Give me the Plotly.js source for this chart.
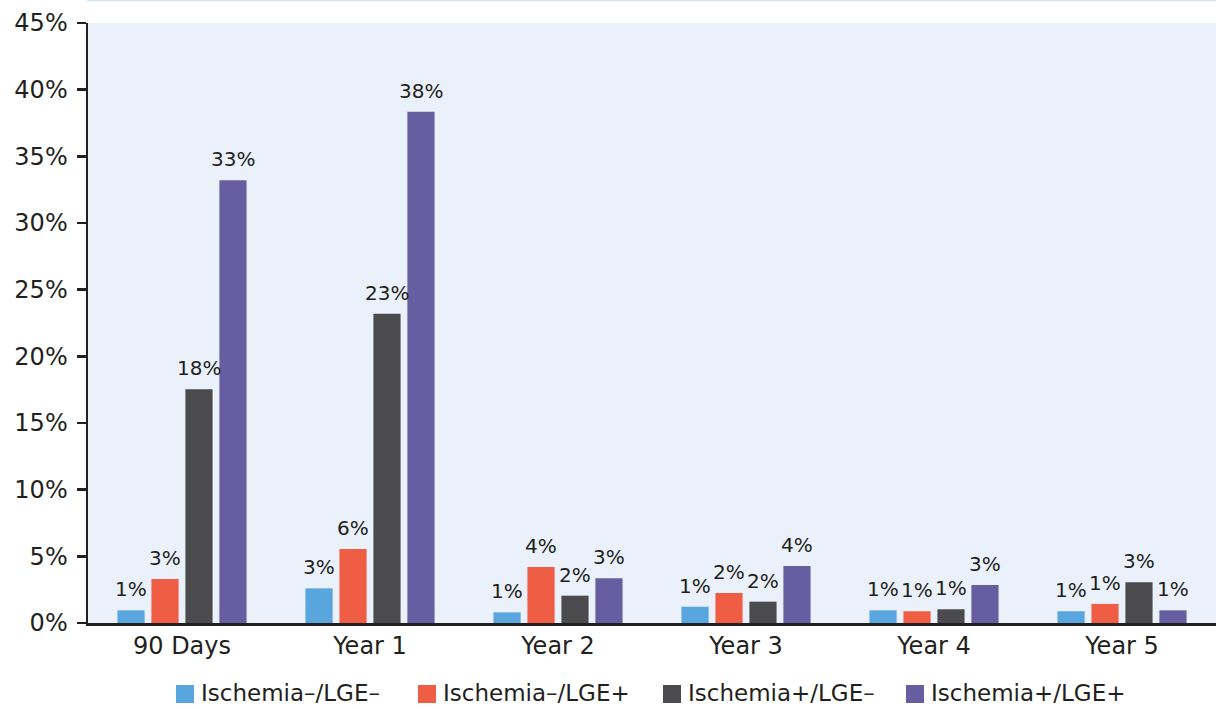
<!DOCTYPE html>
<html>
<head>
<meta charset="utf-8">
<script src="https://cdn.plot.ly/plotly-3.0.1.min.js"></script>
<style>
  html, body { margin: 0; padding: 0; background: #ffffff; }
  #chart { width: 1216px; height: 709px; }
</style>
</head>
<body>
<div id="chart"></div>
<script>
// Time points after the scan
const periods = ['90 Days', 'Year 1', 'Year 2', 'Year 3', 'Year 4', 'Year 5'];

// Event rate (%) per group and period
const ischNegLgeNeg = [0.95, 2.6, 0.8, 1.22, 0.95, 0.88];
const ischNegLgePos = [3.3, 5.55, 4.2, 2.25, 0.88, 1.43];
const ischPosLgeNeg = [17.53, 23.2, 2.05, 1.6, 1.03, 3.05];
const ischPosLgePos = [33.2, 38.35, 3.35, 4.28, 2.85, 0.95];

const groupNames = ['Ischemia\u2013/LGE\u2013', 'Ischemia\u2013/LGE+', 'Ischemia+/LGE\u2013', 'Ischemia+/LGE+'];
const groupColors = ['#59a5dd', '#ef5d45', '#4b4b4d', '#665ea0'];

const yTicks = [0, 5, 10, 15, 20, 25, 30, 35, 40, 45];

const seriesValues = [ischNegLgeNeg, ischNegLgePos, ischPosLgeNeg, ischPosLgePos];
const ink = '#231f20';
const font = '"DejaVu Sans", "Open Sans", sans-serif';

// Plot area geometry (pixels)
const plotLeft = 88, plotWidth = 1128, plotTop = 23, plotHeight = 600;
const bargap = 0.277, bargroupgap = 0.2;
const px = p => (p - plotLeft) / plotWidth;
const py = p => (plotTop + plotHeight - p) / plotHeight;

const traces = seriesValues.map((vals, i) => ({
  type: 'bar',
  name: groupNames[i],
  x: periods,
  y: vals,
  marker: { color: groupColors[i] },
  showlegend: false,
  hoverinfo: 'x+y+name'
}));

// Value labels above each bar, shifted sideways to the bar's slot in its group
const categoryPx = plotWidth / periods.length;
const slotPx = categoryPx * (1 - bargap) / seriesValues.length;
const annotations = [];
seriesValues.forEach((vals, i) => {
  vals.forEach((v, j) => {
    annotations.push({
      xref: 'x', yref: 'y', x: periods[j], y: v,
      xshift: (i - (seriesValues.length - 1) / 2) * slotPx,
      yshift: 7,
      xanchor: 'center', yanchor: 'bottom', showarrow: false,
      text: v.toFixed(0) + '%',
      font: { family: font, size: 20, color: ink }
    });
  });
});

// Legend drawn as colour squares with names underneath the axis
const legendSquareLeft = [176, 418, 663, 906];
const legendSquareSize = 18;
const legendMidY = 694;

const shapes = [
  // thin rule along the top of the figure
  { type: 'line', xref: 'paper', yref: 'paper', x0: px(87), x1: 1.0, y0: py(0.5), y1: py(0.5),
    line: { color: '#cfe5f7', width: 1.5 } }
];
groupNames.forEach((name, i) => {
  const l = legendSquareLeft[i];
  shapes.push({
    type: 'rect', xref: 'paper', yref: 'paper',
    x0: px(l), x1: px(l + legendSquareSize),
    y0: py(legendMidY - legendSquareSize / 2), y1: py(legendMidY + legendSquareSize / 2),
    fillcolor: groupColors[i], line: { width: 0 }
  });
  annotations.push({
    xref: 'paper', yref: 'paper', x: px(l + legendSquareSize + 6), y: py(legendMidY - 1),
    xanchor: 'left', yanchor: 'middle', showarrow: false, text: name,
    borderpad: 0,
    font: { family: font, size: 23, color: ink }
  });
});

const layout = {
  width: 1216,
  height: 709,
  margin: { l: plotLeft, r: 0, t: plotTop, b: 709 - plotTop - plotHeight, pad: 0 },
  paper_bgcolor: '#ffffff',
  plot_bgcolor: '#eaf1fa',
  barmode: 'group',
  bargap: bargap,
  bargroupgap: bargroupgap,
  showlegend: false,
  font: { family: font, color: ink },
  xaxis: {
    type: 'category',
    range: [-0.5, 5.5],
    showline: true, linecolor: ink, linewidth: 2.5,
    ticks: '', showgrid: false, zeroline: false,
    tickfont: { family: font, size: 24, color: ink },
    ticklabelstandoff: 0
  },
  yaxis: {
    range: [0, 45],
    tickvals: yTicks,
    ticktext: yTicks.map(v => v + '%'),
    showline: true, linecolor: ink, linewidth: 2.5,
    ticks: 'outside', ticklen: 9, tickwidth: 2.5, tickcolor: ink,
    showgrid: false, zeroline: false,
    tickfont: { family: font, size: 24, color: ink },
    ticklabelstandoff: 4
  },
  shapes: shapes,
  annotations: annotations
};

Plotly.newPlot('chart', traces, layout, { displayModeBar: false, staticPlot: true });
</script>
</body>
</html>
